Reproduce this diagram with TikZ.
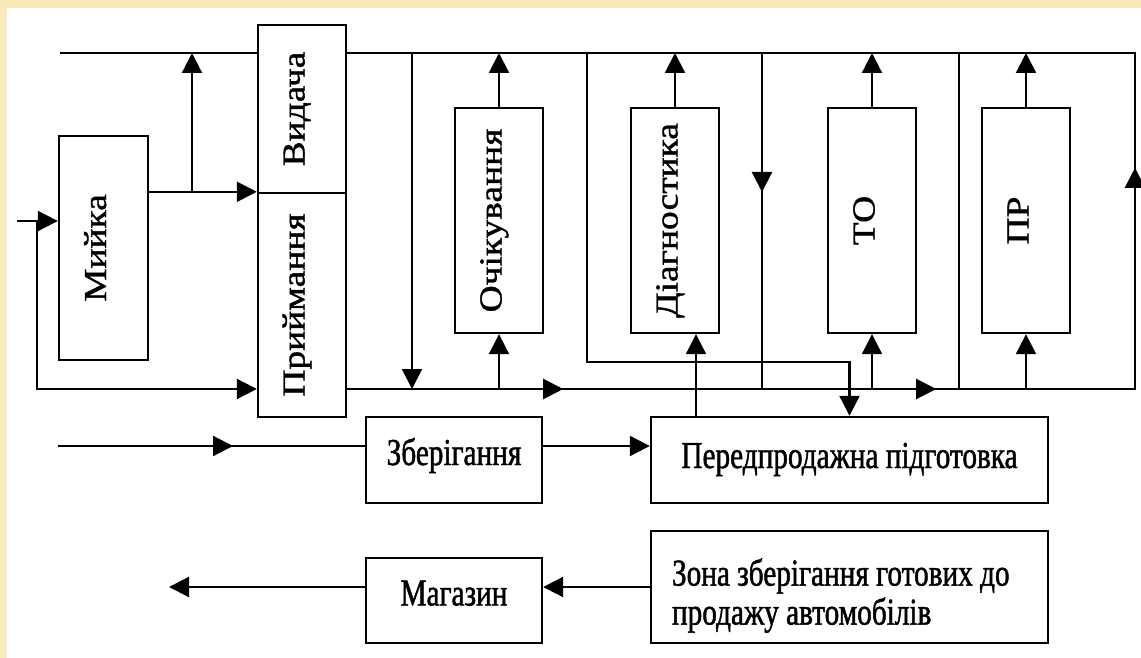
\documentclass[tikz,border=0pt]{standalone}
\usepackage{fontspec}
\usepackage{graphicx}
\usetikzlibrary{positioning, arrows.meta, decorations.markings}

\newfontfamily\hfont[FakeStretch=0.77, FakeBold=1.2]{Liberation Serif}
\newfontfamily\vfont[FakeStretch=1.17, FakeBold=1.2]{Liberation Serif}
\definecolor{slide}{RGB}{250,234,185}

% upright label turned to read upwards
\newcommand{\vlabel}[1]{\rotatebox{90}{\fontsize{32}{34}\vfont\smash{#1}\rule[-17pt]{0pt}{39pt}}}

\tikzset{
  box/.style={draw, line width=2.4pt, inner sep=0pt},
  hbox/.style={box, font=\fontsize{38}{39}\hfont, text height=27pt, text depth=17pt},
  flow/.style={line width=2.2pt},
  arr/.style={flow, ->},
  midarr/.style={flow, postaction={decorate},
    decoration={markings, mark=at position #1 with {\arrow{>}}}}
}

\begin{document}
\begin{tikzpicture}[x=1pt, y=-1pt, >={Triangle[length=20pt, width=20pt]}]
        \useasboundingbox (0,0) rectangle (1141,658);
        \fill[slide] (0,0) rectangle (1141,658);
        \fill[white] (7,8) rectangle (1141,658);

        % Tall boxes
        \node[box, minimum width=89pt, minimum height=224pt] (wash) at (103.5,248) {\vlabel{Мийка}};
        \node[box, minimum width=88pt, minimum height=168pt] (issue) at (302,109) {\vlabel{Видача}};
        \node[box, minimum width=88pt, minimum height=224pt] (accept) at (302,305) {\vlabel{Приймання}};
        \node[box, minimum width=88pt, minimum height=225pt] (wait) at (499,220.5) {\vlabel{Очікування}};
        \node[box, minimum width=88pt, minimum height=225pt] (diag) at (675,220.5) {\vlabel{Діагностика}};
        \node[box, minimum width=88pt, minimum height=225pt] (tm) at (872,220.5) {\vlabel{ТО}};
        \node[box, minimum width=88pt, minimum height=225pt] (pr) at (1026,220.5) {\vlabel{ПР}};

        % Wide boxes
        \node[hbox, minimum width=176pt, minimum height=86pt] (store) at (454,460) {Зберігання};
        \node[hbox, minimum width=397pt, minimum height=86pt, text depth=11pt] (prep) at (849.5,460) {Передпродажна підготовка};
        \node[box, font=\fontsize{38}{39}\hfont, text width=355pt, align=flush left, text depth=30pt,
              minimum width=397pt, minimum height=112pt] (ready) at (849.5,587) {Зона зберігання готових до\\продажу автомобілів};
        \node[hbox, minimum width=176pt, minimum height=85pt] (shop) at (454,600.5) {Магазин};

        % Line ends
        \coordinate (in) at (17,221);
        \coordinate (inb) at (37,221);
        \coordinate (inbl) at (37,389);
        \coordinate (wb) at (192,193);
        \coordinate (tl) at (60,53);
        \coordinate (tr) at (1135,53);
        \coordinate (br) at (1135,389);
        \coordinate (lt) at (587,53);
        \coordinate (lb) at (587,362);
        \coordinate (sin) at (58,446);
        \coordinate (out) at (169,587);
        \foreach \n/\x in {va/412, vb/762, vc/959} {
            \coordinate (\n t) at (\x,53);
            \coordinate (\n b) at (\x,389);
        }

        % Entry
        \draw[arr] (in) -- (in -| wash.west);
        \draw[arr] (inb) -- (inbl) -- (inbl -| accept.west);
        \draw[arr] (wash.east |- accept.north) -- (accept.north west);
        \draw[arr] (wb) -- (wb |- tl);

        % Outer ring
        \draw[flow] (tl) -- (tl -| issue.west);
        \draw[flow, postaction={decorate}, decoration={markings,
                mark=at position 216pt with {\arrow{>}},
                mark=at position 589pt with {\arrow{>}},
                mark=at position 1009pt with {\arrow{>}}}]
            (accept.east |- br) -- (br) -- (tr) -- (tl -| issue.east);

        % Cross links
        \draw[arr] (vat) -- (vab);
        \draw[midarr=139pt] (vbt) -- (vbb);
        \draw[flow] (vct) -- (vcb);
        \draw[arr] (lt) -- (lb) -- (lb -| prep.north) -- (prep.north);

        % Posts
        \foreach \b in {wait, diag, tm, pr}
            \draw[arr] (\b.north) -- (\b.north |- tl);
        \foreach \b in {wait, tm, pr}
            \draw[arr] (\b.south |- br) -- (\b.south);
        \draw[arr] ([xshift=21pt]diag.south |- prep.north) -- ([xshift=21pt]diag.south);

        % Lower row
        \draw[midarr=175pt] (sin) -- (sin -| store.west);
        \draw[arr] (store.east |- sin) -- (prep.west |- sin);
        \draw[arr] (ready.west) -- (ready.west -| shop.east);
        \draw[arr] (shop.west |- out) -- (out);
\end{tikzpicture}
\end{document}
